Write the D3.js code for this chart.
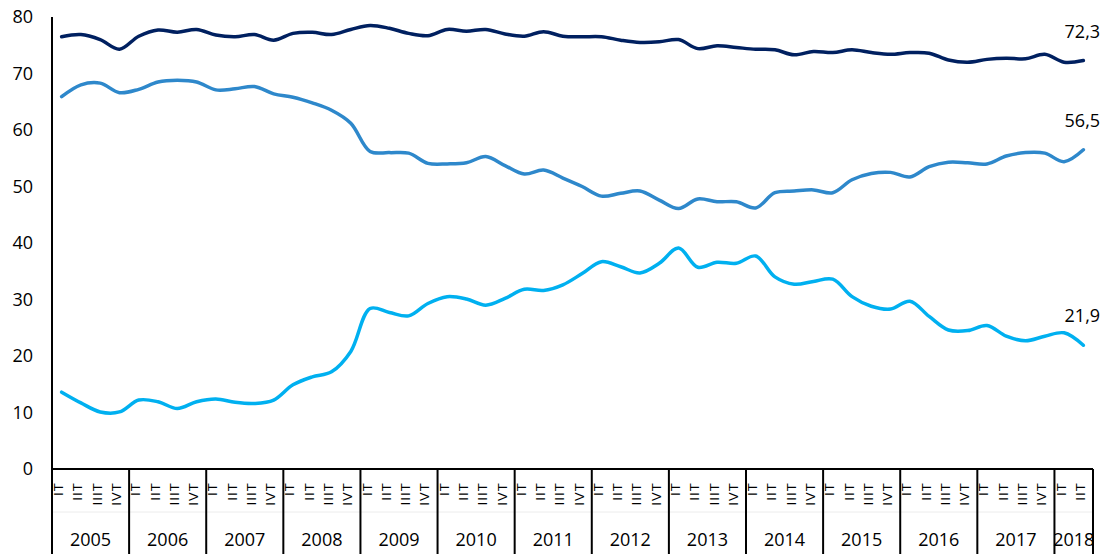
<!DOCTYPE html>
<html>
<head>
<meta charset="utf-8">
<script src="https://cdn.jsdelivr.net/npm/d3@7"></script>
<style>
  html, body { margin: 0; padding: 0; background: #fff; }
  svg { display: block; font-family: "Open Sans", "Liberation Sans", sans-serif; }
</style>
</head>
<body>
<svg id="chart" width="1109" height="554"></svg>
<script>
const years = ["2005","2006","2007","2008","2009","2010","2011","2012","2013","2014","2015","2016","2017","2018"];
const quarterNames = ["IT","IIT","IIIT","IVT"];
const yTicks = [0,10,20,30,40,50,60,70,80];

const seriesTop = [76.5,76.9,76.0,74.3, 76.6,77.7,77.3,77.8, 76.8,76.5,76.9,75.9, 77.1,77.3,76.9,77.8,
  78.5,78.0,77.1,76.7, 77.8,77.5,77.8,77.0, 76.6,77.4,76.6,76.5, 76.5,75.9,75.5,75.6,
  76.0,74.4,74.9,74.6, 74.3,74.2,73.3,73.9, 73.7,74.2,73.7,73.4, 73.7,73.6,72.4,72.0,
  72.5,72.7,72.6,73.4, 72.0,72.3];
const seriesMid = [65.9,68.0,68.3,66.6, 67.2,68.5,68.8,68.5, 67.1,67.3,67.7,66.4, 65.8,64.8,63.5,61.2,
  56.2,56.0,55.9,54.1, 54.0,54.2,55.3,53.7, 52.2,52.9,51.5,50.0, 48.3,48.8,49.2,47.6,
  46.1,47.8,47.3,47.3, 46.2,48.9,49.2,49.4, 48.9,51.2,52.3,52.5, 51.7,53.5,54.3,54.2,
  54.0,55.4,56.0,55.9, 54.4,56.5];
const seriesLow = [13.6,11.7,10.1,10.1, 12.2,11.9,10.7,11.9, 12.4,11.8,11.6,12.2, 14.9,16.3,17.2,20.8,
  28.4,27.7,27.1,29.3, 30.5,30.1,29.0,30.2, 31.8,31.6,32.6,34.6, 36.7,35.8,34.7,36.4,
  39.1,35.7,36.6,36.4, 37.7,34.0,32.7,33.2, 33.6,30.5,28.8,28.3, 29.7,27.0,24.6,24.5,
  25.4,23.5,22.7,23.5, 24.1,21.9];
const seriesColors = ["#002060", "#2E88CB", "#00B0F0"];

// categories (year, quarter)
const categories = [];
years.forEach(yr => {
  const nq = yr === "2018" ? 2 : 4;
  for (let q = 0; q < nq; q++) categories.push({year: yr, q: quarterNames[q]});
});

const svg = d3.select("#chart");
const mLeft = 52, mRight = 1093, mTop = 17, mBottom = 469;

const x = d3.scaleBand().domain(d3.range(categories.length)).range([mLeft, mRight]).paddingInner(0).paddingOuter(0);
const y = d3.scaleLinear().domain([0, 80]).range([mBottom, mTop]);
const cx = i => x(i) + x.bandwidth() / 2;

// faint line in category area
svg.append("line").attr("x1", mLeft).attr("x2", mRight).attr("y1", 512).attr("y2", 512)
  .attr("stroke", "#ececec").attr("stroke-width", 1);

// y axis labels
const yAxis = d3.axisLeft(y).tickValues(yTicks).tickSize(0).tickPadding(19).tickFormat(d3.format("d"));
const gy = svg.append("g").attr("transform", `translate(${mLeft},0)`).call(yAxis);
gy.select(".domain").remove();
gy.selectAll("text").attr("font-size", 18).attr("fill", "#000").attr("font-family", "'Open Sans', sans-serif");

// lines
const line = d3.line().x((d, i) => cx(i)).y(d => y(d)).curve(d3.curveCatmullRom.alpha(0.5));
[seriesTop, seriesMid, seriesLow].forEach((s, k) => {
  svg.append("path").datum(s).attr("d", line).attr("fill", "none")
    .attr("stroke", seriesColors[k]).attr("stroke-width", 3.5).attr("stroke-linecap", "round").attr("stroke-linejoin", "round");
  const last = s.length - 1;
  svg.append("text").attr("x", cx(last) - 1).attr("y", y(s[last]) - 30)
    .attr("text-anchor", "middle").attr("dominant-baseline", "central")
    .attr("font-size", 18).attr("fill", "#000")
    .text(d3.format(".1f")(s[last]).replace(".", ","));
});

// axes frame
svg.append("line").attr("x1", mLeft).attr("x2", mLeft).attr("y1", mTop).attr("y2", 554)
  .attr("stroke", "#000").attr("stroke-width", 2);
svg.append("line").attr("x1", mLeft).attr("x2", mRight).attr("y1", mBottom).attr("y2", mBottom)
  .attr("stroke", "#000").attr("stroke-width", 2);

// year separators
const yearStarts = [];
categories.forEach((c, i) => { if (i > 0 && c.q === "IT") yearStarts.push(i); });
svg.selectAll(".sep").data(yearStarts).enter().append("line")
  .attr("x1", i => x(i)).attr("x2", i => x(i)).attr("y1", mBottom).attr("y2", 554)
  .attr("stroke", "#000").attr("stroke-width", 2);
svg.append("line").attr("x1", mRight).attr("x2", mRight).attr("y1", mBottom).attr("y2", 554)
  .attr("stroke", "#000").attr("stroke-width", 2);

// quarter labels (rotated)
svg.selectAll(".ql").data(categories).enter().append("text")
  .attr("transform", (d, i) => `translate(${cx(i) + 1.5},${482}) rotate(-90)`)
  .attr("text-anchor", "end")
  .attr("font-size", 13).attr("letter-spacing", 1.2)
  .attr("font-family", "'Liberation Sans', sans-serif")
  .attr("fill", "#000")
  .text(d => d.q);

// year labels
years.forEach(yr => {
  const idx = categories.map((c, i) => c.year === yr ? i : -1).filter(i => i >= 0);
  const x0 = x(idx[0]), x1 = x(idx[idx.length - 1]) + x.bandwidth();
  svg.append("text").attr("x", (x0 + x1) / 2).attr("y", 546)
    .attr("text-anchor", "middle").attr("font-size", 18).attr("fill", "#000")
    .text(yr);
});
</script>
</body>
</html>
